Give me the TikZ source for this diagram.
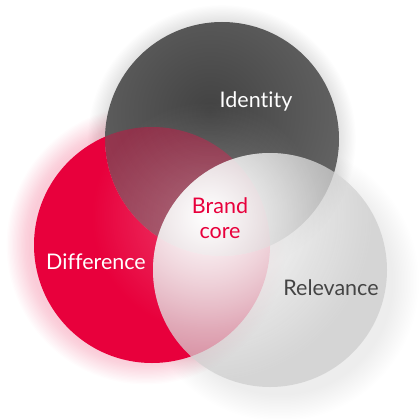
\documentclass[tikz,border=0pt]{standalone}
\usepackage{fontspec}
\setmainfont[Ligatures=NoCommon]{Lato}
\usetikzlibrary{fadings}
\definecolor{brandred}{HTML}{E8003C}
\definecolor{darkin}{HTML}{424242}
\definecolor{darkout}{HTML}{7E7E7E}
\definecolor{relgray}{HTML}{C8C8C8}
\definecolor{reltext}{HTML}{444444}
\tikzfading[name=glowfade, inner color=transparent!0, outer color=transparent!100]
\begin{document}
\begin{tikzpicture}[x=1pt,y=-1pt,
  lbl/.style={font=\fontsize{21.5}{25}\selectfont, inner sep=0pt, align=center}]
\useasboundingbox (0,0) rectangle (420,420);
\coordinate (cI) at (222,139);
\coordinate (cD) at (152,245);
\coordinate (cR) at (270,270);
\coordinate (cRs) at (280,282);
\coordinate (cDs) at (146,245);
\coordinate (cG) at (207,216);
% halos and shadows
\foreach \k in {1,...,18} {
  \fill[brandred, opacity=0.011] (cDs) circle ({116+1.3*\k});
}
\foreach \k in {1,...,14} {
  \fill[black, opacity=0.006] (cI) circle ({117+1.2*\k});
}
\foreach \k in {1,...,18} {
  \fill[black, opacity=0.005] (cRs) circle ({112+1.5*\k});
}
% Identity circle
\begin{scope}
  \clip (cI) circle (117);
  \shade[inner color=darkin, outer color=darkout] (210,112) circle (250);
\end{scope}
% Difference circle over Identity (semi)
\begin{scope}
  \clip (cI) circle (117);
  \fill[brandred, opacity=0.40] (cD) circle (118);
\end{scope}
% Difference circle outside Identity
\begin{scope}[even odd rule]
  \clip (0,0) rectangle (420,420) (cI) circle (117);
  \fill[brandred] (cD) circle (118);
\end{scope}
% Relevance circle
\fill[relgray, opacity=0.65] (cR) circle (117);
% central glow
\fill[white, opacity=0.25, path fading=glowfade] (cG) circle (115);
\begin{scope}
  \clip (cR) circle (117);
  \fill[white, path fading=glowfade] (cG) circle (165);
\end{scope}
% labels
\node[lbl, text=white] (tI) at (256,101) {Identity};
\node[lbl, text=white] (tD) at (96,262) {Difference};
\node[lbl, text=reltext] (tR) at (331,288) {Relevance};
\node[lbl, text=brandred] (tB) at (220,218) {Brand\\core};
\end{tikzpicture}
\end{document}
